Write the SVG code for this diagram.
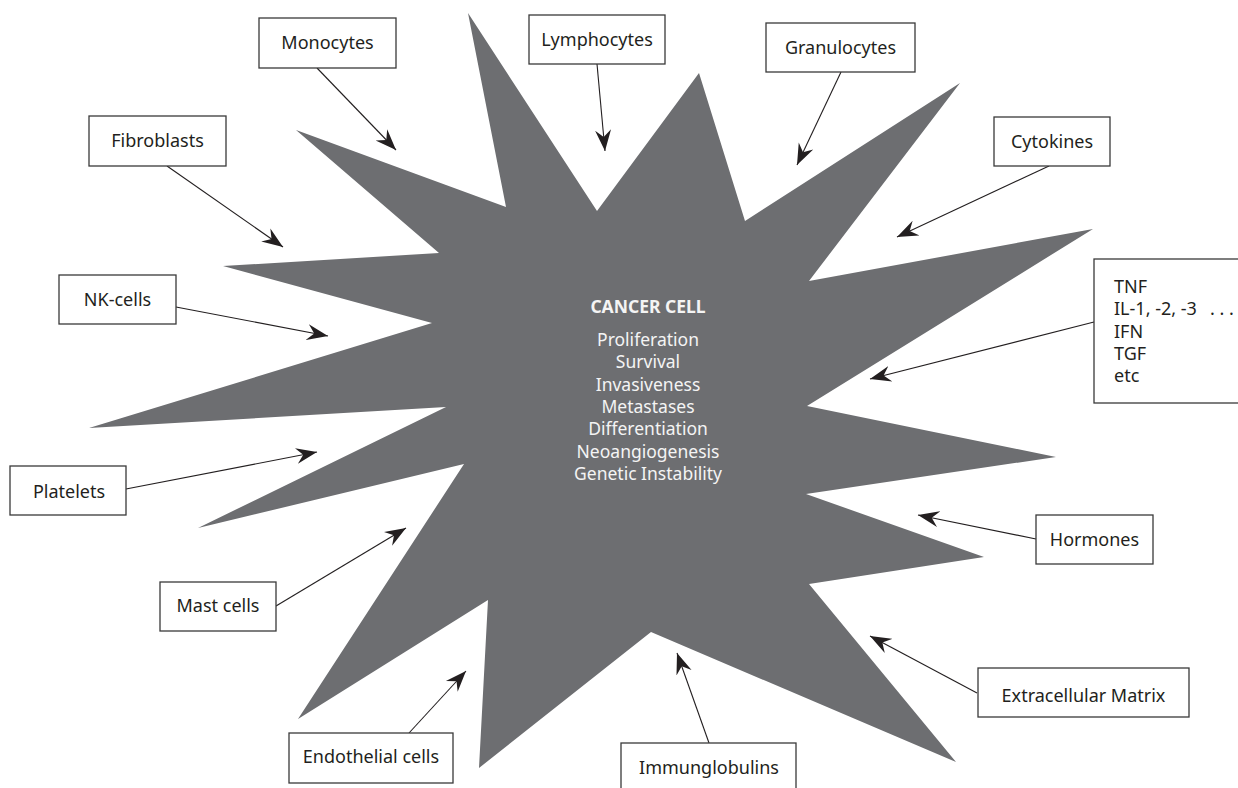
<svg xmlns="http://www.w3.org/2000/svg" width="1238" height="788" viewBox="0 0 1238 788">
<style>
.box{fill:#ffffff;stroke:#3a3a3a;stroke-width:1.3}
.lbl{font-family:"Noto Sans","Open Sans","Liberation Sans",sans-serif;font-size:18px;fill:#231f20;text-anchor:middle}
.lst{font-family:"Noto Sans","Open Sans","Liberation Sans",sans-serif;font-size:18px;fill:#231f20}
.in{font-family:"Noto Sans","Open Sans","Liberation Sans",sans-serif;font-size:17.5px;fill:#f4f4f4;text-anchor:middle}
.conn{stroke:#231f20;stroke-width:1.1;fill:none;marker-end:url(#ah)}
</style>
<defs>
<marker id="ah" markerUnits="userSpaceOnUse" viewBox="-21 -9 22 18" markerWidth="22" markerHeight="18" refX="0" refY="0" orient="auto">
<path d="M0,0 L-21,-8 L-14,0 L-21,8 Z" fill="#231f20"/>
</marker>
</defs>
<rect width="1238" height="788" fill="#ffffff"/>
<g id="cancer-cell">
<polygon fill="#6d6e71" points="468,13 597,211 699,73 745,221 960,83 809,281 1093,229 807,406 1056,457 806,494 984,557 809,584 956,762 651,632 479,768 488,600 298,719 464,464 198,528 446,407 89,428 432,323 223,266 439,253 296,130 506,207"/>
<text class="in" x="648" y="313" font-weight="bold" font-size="17px">CANCER CELL</text>
<text class="in" x="648" y="346">Proliferation</text>
<text class="in" x="648" y="368">Survival</text>
<text class="in" x="648" y="390.5">Invasiveness</text>
<text class="in" x="648" y="413">Metastases</text>
<text class="in" x="648" y="435">Differentiation</text>
<text class="in" x="648" y="457.5">Neoangiogenesis</text>
<text class="in" x="648" y="480">Genetic Instability</text>
</g>
<g id="connectors">
<line class="conn" x1="317" y1="68" x2="396" y2="150"/>
<line class="conn" x1="597" y1="64" x2="605" y2="151"/>
<line class="conn" x1="841" y1="72" x2="797" y2="165"/>
<line class="conn" x1="1049" y1="166" x2="897" y2="237"/>
<line class="conn" x1="1094" y1="322" x2="870" y2="379"/>
<line class="conn" x1="1036" y1="539" x2="918" y2="515"/>
<line class="conn" x1="977" y1="693" x2="870" y2="636"/>
<line class="conn" x1="709" y1="743" x2="677" y2="653"/>
<line class="conn" x1="409" y1="733" x2="466" y2="671"/>
<line class="conn" x1="276" y1="606" x2="406" y2="528"/>
<line class="conn" x1="126" y1="489" x2="317" y2="452"/>
<line class="conn" x1="176" y1="307" x2="328" y2="336"/>
<line class="conn" x1="167" y1="166" x2="283" y2="247"/>
</g>
<g id="monocytes"><rect class="box" x="259" y="18" width="137" height="50"/><text class="lbl" x="327.5" y="49">Monocytes</text></g>
<g id="lymphocytes"><rect class="box" x="529" y="15" width="136" height="49"/><text class="lbl" x="597" y="46">Lymphocytes</text></g>
<g id="granulocytes"><rect class="box" x="766" y="23" width="149" height="49"/><text class="lbl" x="840.5" y="54">Granulocytes</text></g>
<g id="cytokines"><rect class="box" x="994" y="117" width="116" height="49"/><text class="lbl" x="1052" y="148">Cytokines</text></g>
<g id="cytokine-list"><rect class="box" x="1094" y="259" width="160" height="144"/>
<text class="lst" x="1114" y="293">TNF</text>
<text class="lst" x="1114" y="315">IL-1, -2, -3</text>
<text class="lst" x="1210" y="315">. . .</text>
<text class="lst" x="1114" y="338">IFN</text>
<text class="lst" x="1114" y="360">TGF</text>
<text class="lst" x="1114" y="382">etc</text>
</g>
<g id="hormones"><rect class="box" x="1036" y="515" width="117" height="49"/><text class="lbl" x="1094.5" y="546">Hormones</text></g>
<g id="extracellular-matrix"><rect class="box" x="978" y="668" width="211" height="49"/><text class="lbl" x="1083.5" y="702">Extracellular Matrix</text></g>
<g id="immunglobulins"><rect class="box" x="621" y="743" width="175" height="60"/><text class="lbl" x="709" y="774">Immunglobulins</text></g>
<g id="endothelial-cells"><rect class="box" x="289" y="733" width="164" height="50"/><text class="lbl" x="371" y="763">Endothelial cells</text></g>
<g id="mast-cells"><rect class="box" x="160" y="582" width="116" height="49"/><text class="lbl" x="218" y="612">Mast cells</text></g>
<g id="platelets"><rect class="box" x="10" y="466" width="116" height="49"/><text class="lbl" x="69" y="498">Platelets</text></g>
<g id="nk-cells"><rect class="box" x="59" y="275" width="117" height="49"/><text class="lbl" x="117.5" y="306">NK-cells</text></g>
<g id="fibroblasts"><rect class="box" x="89" y="116" width="137" height="50"/><text class="lbl" x="157.5" y="147">Fibroblasts</text></g>
</svg>
